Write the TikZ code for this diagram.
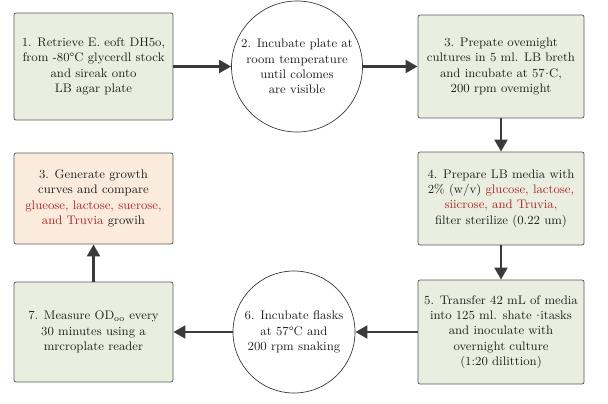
\documentclass[tikz,border=0pt]{standalone}
\usepackage{fontspec}
\usetikzlibrary{arrows.meta}
\definecolor{boxgreen}{HTML}{E9EEE0}
\definecolor{boxpink}{HTML}{FAEBDD}
\definecolor{edgegray}{HTML}{5A5A5A}
\definecolor{arrowgray}{HTML}{3A3A3A}
\definecolor{sugarred}{HTML}{B02A2A}
\definecolor{txt}{HTML}{222222}
\newcommand{\sug}[1]{\textcolor{sugarred}{#1}}
\newcommand{\rdot}{\kern0.3pt\raisebox{0.55ex}{.}\kern0.3pt}
\tikzset{
  stepbox/.style={draw=edgegray, line width=0.6pt, rounded corners=1.5pt, fill=boxgreen,
    align=center, inner sep=0pt, text=txt, font=\fontsize{9.3}{11.4}\selectfont},
  stepcircle/.style={draw=black!80, line width=0.5pt, circle, fill=white,
    align=center, inner sep=0pt, text=txt, font=\fontsize{9.3}{11.4}\selectfont},
  flow/.style={draw=arrowgray, line width=2.2pt, -{Triangle[length=9pt,width=9.5pt]}},
}
\begin{document}
\begin{tikzpicture}[x=0.75pt,y=-0.75pt]
\useasboundingbox (0,0) rectangle (608,404);
\node[stepbox, minimum width=159*0.75pt, minimum height=107*0.75pt] (b1) at (93.5,66.5)
  {1. Retrieve E. eoft DH5o,\\from -80°C glycerdl stock\\and sireak onto\\LB agar plate};
\node[stepcircle, minimum size=131*0.75pt] (c2) at (297,66.5)
  {2. Incubate plate at\\room temperature\\until colomes\\are visible};
\node[stepbox, minimum width=166*0.75pt, minimum height=103*0.75pt] (b3) at (501,66.5)
  {3. Prepate ovemight\\cultures in 5 ml. LB breth\\and incubate at 57\rdot C,\\200 rpm ovemight};
\node[stepbox, minimum width=166*0.75pt, minimum height=93*0.75pt] (b4) at (501,198.5)
  {4. Prepare LB media with\\2\% (w/v) \sug{glucose, lactose,}\\\sug{siicrose, and Truvia,}\\filter sterilize (0.22 um)};
\node[stepbox, minimum width=166*0.75pt, minimum height=104*0.75pt] (b5) at (501,332)
  {5. Transfer 42 mL of media\\into 125 ml. shate \rdot itasks\\and inoculate with\\overnight culture\\(1:20 dilittion)};
\node[stepcircle, minimum size=122*0.75pt] (c6) at (294,332)
  {6. Incubate flasks\\at 57°C and\\200 rpm snaking};
\node[stepbox, minimum width=159*0.75pt, minimum height=100*0.75pt] (b7) at (93.5,332)
  {7. Measure OD\textsubscript{oo} every\\30 minutes using a\\mrcroplate reader};
\node[stepbox, fill=boxpink, minimum width=159*0.75pt, minimum height=91*0.75pt] (b8) at (93.5,198.5)
  {3. Generate growth\\curves and compare\\\sug{glueose, lactose, suerose,}\\\sug{and Truvia} growih};
\draw[flow] (b1) -- (c2);
\draw[flow] (c2) -- (b3);
\draw[flow] (b3) -- (b4);
\draw[flow] (b4) -- (b5);
\draw[flow] (b5) -- (c6);
\draw[flow] (c6) -- (b7);
\draw[flow] (b7) -- (b8);
\end{tikzpicture}
\end{document}
